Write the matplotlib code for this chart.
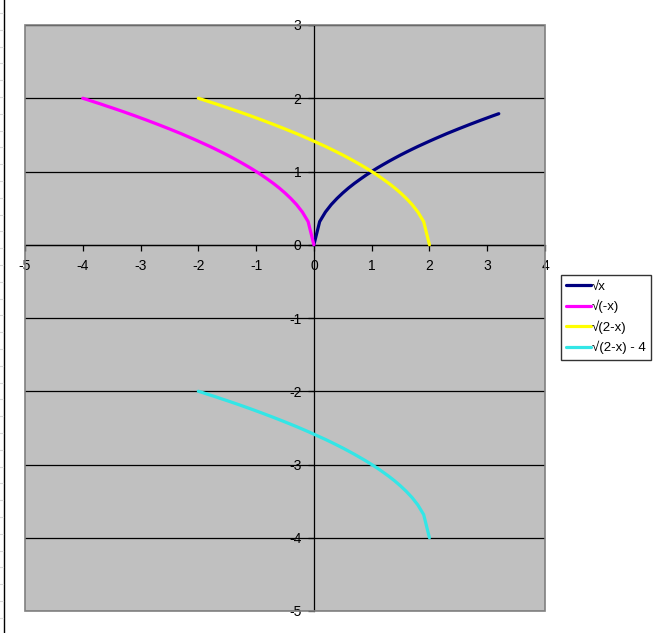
import matplotlib
matplotlib.use("Agg")
import matplotlib.pyplot as plt
from matplotlib.lines import Line2D
from matplotlib.patches import Rectangle

plt.rcParams['font.family'] = ['Liberation Sans', 'DejaVu Sans']

# sample points, step 0.1
x_pos = [round(i * 0.1, 1) for i in range(0, 33)]          # 0 .. 3.2
x_neg = [round(-4 + i * 0.1, 1) for i in range(0, 41)]     # -4 .. 0
x_two = [round(-2 + i * 0.1, 1) for i in range(0, 41)]     # -2 .. 2

y_sqrt_x = [0.000, 0.316, 0.447, 0.548, 0.632, 0.707, 0.775, 0.837, 0.894, 0.949,
            1.000, 1.049, 1.095, 1.140, 1.183, 1.225, 1.265, 1.304, 1.342, 1.378,
            1.414, 1.449, 1.483, 1.517, 1.549, 1.581, 1.612, 1.643, 1.673, 1.703,
            1.732, 1.761, 1.789]

y_sqrt_neg_x = [2.000, 1.975, 1.949, 1.924, 1.897, 1.871, 1.844, 1.817, 1.789, 1.761,
                1.732, 1.703, 1.673, 1.643, 1.612, 1.581, 1.549, 1.517, 1.483, 1.449,
                1.414, 1.378, 1.342, 1.304, 1.265, 1.225, 1.183, 1.140, 1.095, 1.049,
                1.000, 0.949, 0.894, 0.837, 0.775, 0.707, 0.632, 0.548, 0.447, 0.316,
                0.000]

y_sqrt_two_minus_x = [2.000, 1.975, 1.949, 1.924, 1.897, 1.871, 1.844, 1.817, 1.789, 1.761,
                      1.732, 1.703, 1.673, 1.643, 1.612, 1.581, 1.549, 1.517, 1.483, 1.449,
                      1.414, 1.378, 1.342, 1.304, 1.265, 1.225, 1.183, 1.140, 1.095, 1.049,
                      1.000, 0.949, 0.894, 0.837, 0.775, 0.707, 0.632, 0.548, 0.447, 0.316,
                      0.000]

y_shifted = [-2.000, -2.025, -2.051, -2.076, -2.103, -2.129, -2.156, -2.183, -2.211, -2.239,
             -2.268, -2.297, -2.327, -2.357, -2.388, -2.419, -2.451, -2.483, -2.517, -2.551,
             -2.586, -2.622, -2.658, -2.696, -2.735, -2.775, -2.817, -2.860, -2.905, -2.951,
             -3.000, -3.051, -3.106, -3.163, -3.225, -3.293, -3.368, -3.452, -3.553, -3.684,
             -4.000]

labels = ['\u221ax', '\u221a(-x)', '\u221a(2-x)', '\u221a(2-x) - 4']
colors = ['#000080', '#FF00FF', '#FFFF00', '#33E6E6']

x_ticks = [-5, -4, -3, -2, -1, 0, 1, 2, 3, 4]
y_ticks = [-5, -4, -3, -2, -1, 0, 1, 2, 3]

fig = plt.figure(figsize=(6.55, 6.33), dpi=100)
ax = fig.add_axes([25 / 655, 22 / 633, 520 / 655, 586 / 633])
ax.set_facecolor('#C0C0C0')

series = [(x_pos, y_sqrt_x), (x_neg, y_sqrt_neg_x),
          (x_two, y_sqrt_two_minus_x), (x_two, y_shifted)]
for (xs, ys), lab, col in zip(series, labels, colors):
    ax.plot(xs, ys, color=col, lw=2.3, label=lab, zorder=3,
            solid_joinstyle='round', solid_capstyle='round')

ax.set_xlim(-5, 4)
ax.set_ylim(-5, 3)
ax.set_xticks(x_ticks)
ax.set_yticks(y_ticks)
ax.set_xticklabels([str(v) for v in x_ticks])
ax.set_yticklabels([str(v) for v in y_ticks])

# horizontal gridlines
ax.yaxis.grid(True, color='black', lw=0.9)
ax.xaxis.grid(False)
ax.set_axisbelow(True)

# axes crossing at the origin
ax.spines['left'].set_position(('data', 0))
ax.spines['bottom'].set_position(('data', 0))
for s in ('left', 'bottom'):
    ax.spines[s].set_color('black')
    ax.spines[s].set_linewidth(0.9)
for s in ('top', 'right'):
    ax.spines[s].set_visible(False)

ax.tick_params(axis='x', direction='out', length=4, width=0.9, pad=6,
               labelsize=10, colors='black')
ax.tick_params(axis='y', direction='out', length=4, width=0.9, pad=5,
               labelsize=10, colors='black')

# grey plot-area border
ax.add_patch(Rectangle((0, 0), 1, 1, transform=ax.transAxes, fill=False,
                       edgecolor='#808080', lw=1.2, zorder=4, clip_on=False))

leg = fig.legend(loc='upper left', bbox_to_anchor=(561 / 655, 1 - 275 / 633),
                 fontsize=9.5, frameon=True, fancybox=False, shadow=False,
                 handlelength=1.9, handletextpad=0.02, labelspacing=0.55,
                 borderpad=0.4, borderaxespad=0)
leg.get_frame().set_edgecolor('black')
leg.get_frame().set_linewidth(1.0)
for h in leg.get_lines():
    h.set_linewidth(2.3)

# sheet edge on the left
fig.add_artist(Line2D([3.5 / 655, 3.5 / 655], [0, 1], color='black', lw=1.0))
row_ys = [633 - (13 + 16.8 * i) for i in range(38)]
for ry in row_ys:
    fig.add_artist(Line2D([0, 3 / 655], [ry / 633, ry / 633], color='#D8D8D8', lw=0.8))

fig.savefig('out.png', dpi=100)
